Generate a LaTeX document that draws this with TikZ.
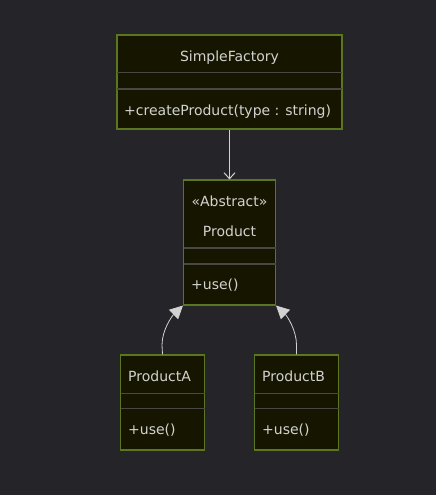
\documentclass[tikz,border=0pt]{standalone}
\usepackage{fontspec}
\setmainfont{DejaVu Sans}
\usetikzlibrary{arrows.meta}
\definecolor{bg}{RGB}{37,37,41}
\definecolor{boxfill}{RGB}{22,22,0}
\definecolor{boxline}{RGB}{90,118,32}
\definecolor{divline}{RGB}{72,72,68}
\definecolor{txt}{RGB}{210,210,210}
\tikzset{
  cls/.style={draw=boxline, fill=boxfill, line width=1.1pt, inner sep=0pt},
  divider/.style={draw=divline, line width=1.6pt},
  lbl/.style={text=txt, font=\fontsize{14}{16}\selectfont, inner sep=0pt},
  conn/.style={draw=txt, line width=0.8pt},
}
\begin{document}
\begin{tikzpicture}[x=1pt,y=-1pt]
\fill[bg] (0,0) rectangle (436,495);
\useasboundingbox (0,0) rectangle (436,495);
% SimpleFactory
\node[cls, minimum width=225pt, minimum height=94pt] (sf) at (229.5,82) {};
\draw[divider] (117,72.5) -- (342,72.5);
\draw[divider] (117,89) -- (342,89);
\node[lbl] (sfname) at (229.5,57.5) {SimpleFactory};
\node[lbl, anchor=west] (sfop) at (124,111.5) {+createProduct(type : string)};
% Product
\node[cls, minimum width=92pt, minimum height=125pt] (pr) at (229.5,242.5) {};
\draw[divider] (183.5,248) -- (275.5,248);
\draw[divider] (183.5,264) -- (275.5,264);
\node[lbl] (prst) at (229.5,201) {«Abstract»};
\node[lbl] (prname) at (229.5,231) {Product};
\node[lbl, anchor=west] (prop) at (191,285.5) {+use()};
% ProductA
\node[cls, minimum width=84pt, minimum height=95pt] (pa) at (162.5,402.5) {};
\draw[divider] (120.5,393.5) -- (204.5,393.5);
\draw[divider] (120.5,408.5) -- (204.5,408.5);
\node[lbl, anchor=west] (paname) at (128,376) {ProductA};
\node[lbl, anchor=west] (paop) at (128,430.5) {+use()};
% ProductB
\node[cls, minimum width=84pt, minimum height=95pt] (pb) at (296.5,402.5) {};
\draw[divider] (254.5,393.5) -- (338.5,393.5);
\draw[divider] (254.5,408.5) -- (338.5,408.5);
\node[lbl, anchor=west] (pbname) at (262,376) {ProductB};
\node[lbl, anchor=west] (pbop) at (262,430.5) {+use()};
% connectors
\draw[conn, -{Straight Barb[length=6pt,width=11pt,line width=1pt]}] (sf.south) -- (pr.north);
\draw[conn, -{Triangle[length=13pt,width=13pt,fill=txt]}] (pa.north) -- (162,345) .. controls (162,330) and (172,316) .. (pr.south west);
\draw[conn, -{Triangle[length=13pt,width=13pt,fill=txt]}] (pb.north) -- (296.5,345) .. controls (296.5,330) and (287,316) .. (pr.south east);
\end{tikzpicture}
\end{document}
